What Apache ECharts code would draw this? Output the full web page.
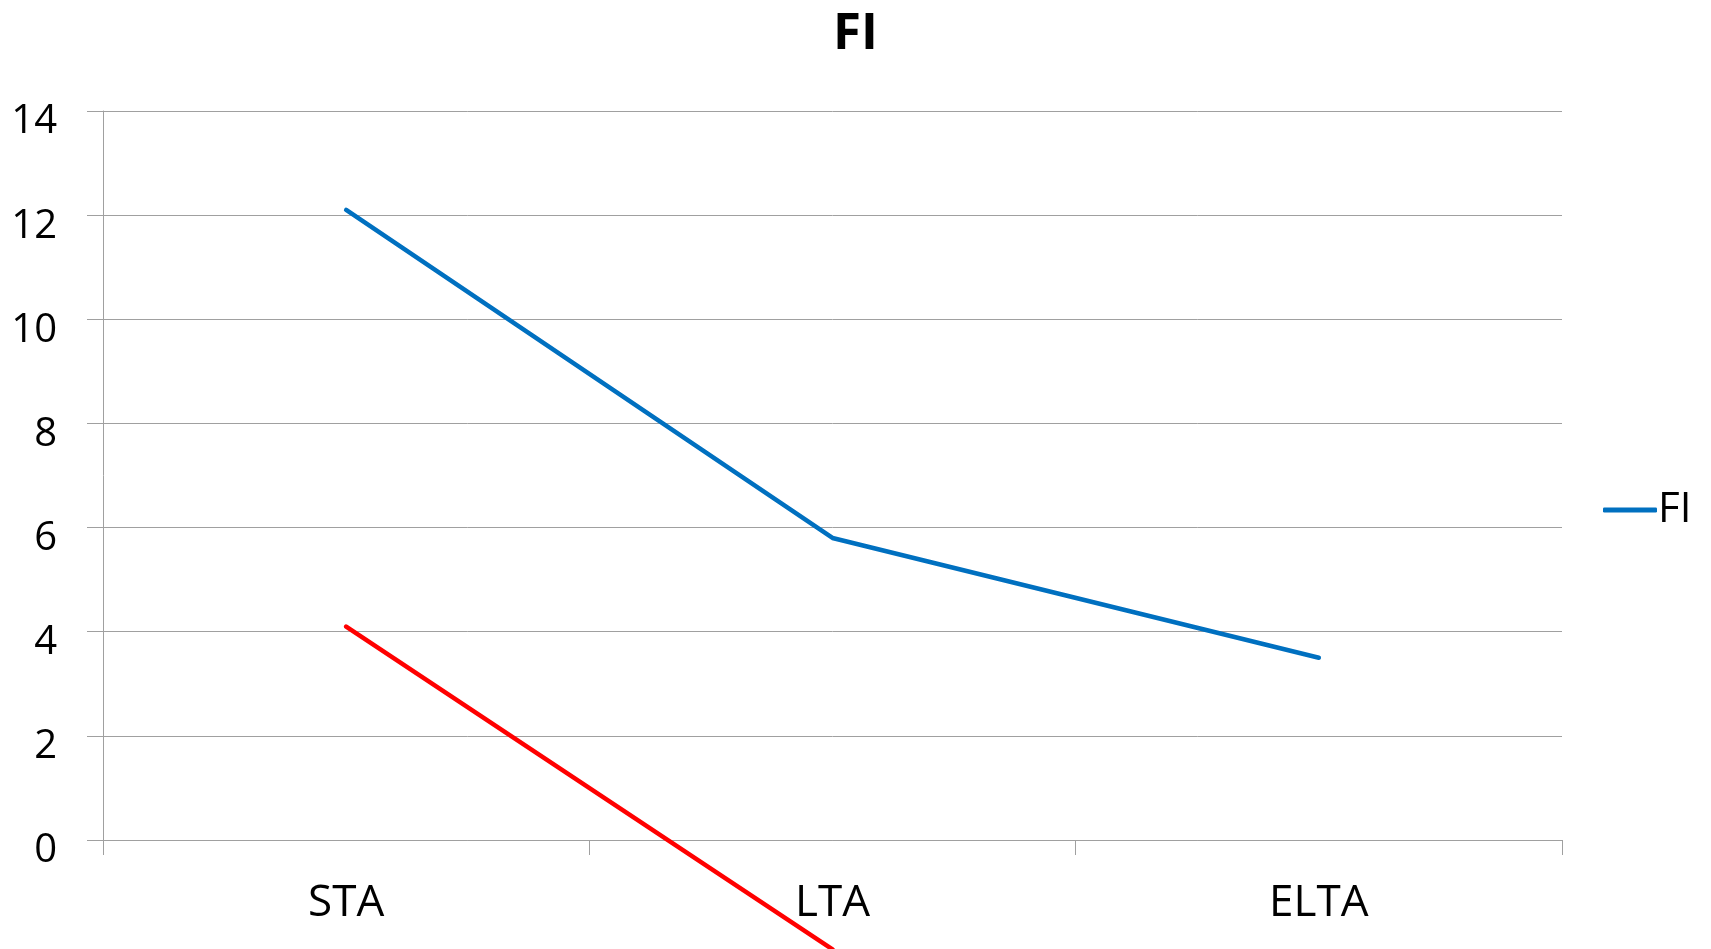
<!DOCTYPE html>
<html>
<head>
<meta charset="utf-8">
<script src="https://cdn.jsdelivr.net/npm/echarts@6/dist/echarts.min.js"></script>
<style>
  html, body { margin: 0; padding: 0; background: #fff; }
  #chart { width: 1711px; height: 949px; }
</style>
</head>
<body>
<div id="chart"></div>
<script>
// Categories along the x axis
const categories = ['STA', 'LTA', 'ELTA'];
// FI series values
const fiValues = [12.1, 5.8, 3.5];
// Secondary trend line (not listed in the legend)
const trendValues = [4.1, -2.1];
// Y-axis range and step
const yMin = 0;
const yMax = 14;
const yStep = 2;

const fontFamily = '"Open Sans", "DejaVu Sans", sans-serif';
const chart = echarts.init(document.getElementById('chart'));

chart.setOption({
  animation: false,
  backgroundColor: '#ffffff',
  title: {
    text: 'FI',
    left: 'center',
    top: 4,
    textStyle: { fontFamily: fontFamily, fontWeight: 'bold', fontSize: 51, color: '#000' }
  },
  legend: {
    data: ['FI'],
    orient: 'vertical',
    left: 1598,
    top: 484,
    itemWidth: 54,
    itemHeight: 5,
    itemGap: 0,
    icon: 'roundRect',
    textStyle: { fontFamily: fontFamily, fontSize: 42, color: '#000', padding: [0, 0, 0, -4] }
  },
  grid: { left: 103, right: 149, top: 111, bottom: 109, containLabel: false },
  xAxis: {
    type: 'category',
    data: categories,
    boundaryGap: true,
    axisLine: { lineStyle: { color: '#a0a0a0', width: 1 } },
    axisTick: { show: true, length: 15, alignWithLabel: false, lineStyle: { color: '#a0a0a0' } },
    axisLabel: { fontFamily: fontFamily, fontSize: 44, color: '#000', margin: 41 },
    splitLine: { show: false }
  },
  yAxis: {
    type: 'value',
    min: yMin,
    max: yMax,
    interval: yStep,
    axisLine: { show: true, lineStyle: { color: '#a0a0a0', width: 1 } },
    axisTick: { show: true, length: 16, lineStyle: { color: '#a0a0a0' } },
    axisLabel: {
      fontFamily: fontFamily, fontSize: 40, color: '#000', margin: 46,
      verticalAlign: 'top', lineHeight: 22
    },
    splitLine: { show: true, lineStyle: { color: '#a0a0a0', width: 1 } }
  },
  series: [
    {
      name: 'FI',
      type: 'line',
      data: fiValues,
      showSymbol: false,
      symbol: 'none',
      lineStyle: { color: '#0070C0', width: 4.5, cap: 'round' },
      itemStyle: { color: '#0070C0' }
    },
    {
      name: 'trend',
      type: 'line',
      data: trendValues,
      showSymbol: false,
      symbol: 'none',
      clip: false,
      lineStyle: { color: '#FF0000', width: 4.5, cap: 'round' },
      itemStyle: { color: '#FF0000' }
    }
  ]
});
</script>
</body>
</html>
